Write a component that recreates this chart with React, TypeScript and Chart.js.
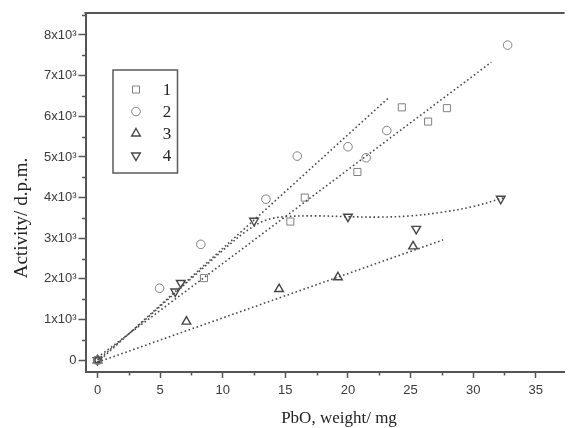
import React, { useEffect, useRef } from 'react';
import { Chart, registerables } from 'chart.js';

Chart.register(...registerables);

// ---- data ----
const series1X = [0, 8.5, 15.4, 16.55, 20.75, 24.3, 26.4, 27.9];
const series1Y = [0, 2020, 3410, 4000, 4630, 6220, 5870, 6200];

const series2X = [0, 4.95, 8.25, 13.45, 15.95, 20.0, 21.45, 23.1, 32.75];
const series2Y = [0, 1770, 2850, 3960, 5020, 5250, 4980, 5650, 7750];

const series3X = [0, 7.1, 14.5, 19.2, 25.2];
const series3Y = [0, 950, 1750, 2040, 2800];

const series4X = [0, 6.2, 6.65, 12.5, 20.0, 25.45, 32.2];
const series4Y = [0, 1690, 1900, 3430, 3530, 3230, 3970];

// fitted lines / curve
const fitAX = [0, 23.3];
const fitAY = [-50, 6470];
const fitBX = [0, 31.45];
const fitBY = [70, 7330];
const fit3X = [0, 27.6];
const fit3Y = [-50, 2960];
const curve4X = [0, 2, 4, 6, 8, 10, 12, 13.5, 15, 17.5, 20, 22.5, 25, 27.5, 30, 32.5];
const curve4Y = [0, 520, 1050, 1600, 2150, 2700, 3200, 3450, 3530, 3550, 3530, 3520, 3550, 3640, 3780, 4000];

const legendLabels = ['1', '2', '3', '4'];
const xMajorTicks = [0, 5, 10, 15, 20, 25, 30, 35];
const yMajorTicks = [0, 1000, 2000, 3000, 4000, 5000, 6000, 7000, 8000];
const xMinorTicks = [2.5, 7.5, 12.5, 17.5, 22.5, 27.5, 32.5, 37.5];
const yMinorTicks = [500, 1500, 2500, 3500, 4500, 5500, 6500, 7500, 8500];
const xTitle = 'PbO, weight/ mg';
const yTitle = 'Activity/ d.p.m.';

const pts = (xs: number[], ys: number[]) => xs.map((x, i) => ({ x, y: ys[i] }));

const AXIS = '#555';
const MARK_LIGHT = '#808080';
const MARK_DARK = '#474747';
const LINE = '#4a4a4a';

function drawSymbol(ctx: CanvasRenderingContext2D, kind: number, x: number, y: number) {
  ctx.beginPath();
  if (kind === 0) {
    ctx.strokeStyle = MARK_LIGHT; ctx.lineWidth = 1;
    ctx.rect(x - 3.5, y - 3.5, 7, 7);
  } else if (kind === 1) {
    ctx.strokeStyle = MARK_LIGHT; ctx.lineWidth = 1;
    ctx.arc(x, y, 4.3, 0, Math.PI * 2);
  } else if (kind === 2) {
    ctx.strokeStyle = MARK_DARK; ctx.lineWidth = 1.4;
    const r = 5;
    ctx.moveTo(x, y - r);
    ctx.lineTo(x + r * 0.866, y + r * 0.5);
    ctx.lineTo(x - r * 0.866, y + r * 0.5);
    ctx.closePath();
  } else {
    ctx.strokeStyle = MARK_DARK; ctx.lineWidth = 1.4;
    const r = 5;
    ctx.moveTo(x, y + r);
    ctx.lineTo(x + r * 0.866, y - r * 0.5);
    ctx.lineTo(x - r * 0.866, y - r * 0.5);
    ctx.closePath();
  }
  ctx.stroke();
}

const decor = {
  id: 'decor',
  afterDraw(chart: any) {
    const { ctx, chartArea, scales } = chart;
    const xs = scales.x;
    const ys = scales.y;
    ctx.save();
    // top frame line
    ctx.strokeStyle = AXIS;
    ctx.lineWidth = 2;
    ctx.beginPath();
    ctx.moveTo(chartArea.left - 1, chartArea.top);
    ctx.lineTo(chartArea.right, chartArea.top);
    ctx.stroke();
    // minor ticks
    ctx.lineWidth = 1.5;
    ctx.beginPath();
    for (const v of xMinorTicks) {
      const px = Math.round(xs.getPixelForValue(v)) + 0.5;
      if (px > chartArea.right) continue;
      ctx.moveTo(px, chartArea.bottom);
      ctx.lineTo(px, chartArea.bottom + 3.5);
    }
    for (const v of yMinorTicks) {
      const py = Math.round(ys.getPixelForValue(v)) + 0.5;
      ctx.moveTo(chartArea.left, py);
      ctx.lineTo(chartArea.left - 3.5, py);
    }
    ctx.stroke();

    // legend box
    ctx.strokeStyle = '#5a5a5a';
    ctx.lineWidth = 1.5;
    ctx.strokeRect(113, 70, 64.5, 103);
    const rows = [89.5, 111.5, 133.5, 155.5];
    ctx.font = '17px "Liberation Serif", "Times New Roman", serif';
    ctx.fillStyle = '#222';
    ctx.textAlign = 'center';
    ctx.textBaseline = 'middle';
    rows.forEach((ry, i) => {
      drawSymbol(ctx, i, 136, ry);
      ctx.fillText(legendLabels[i], 167, ry + 1);
    });

    // axis titles
    ctx.fillStyle = '#222';
    ctx.textBaseline = 'alphabetic';
    ctx.textAlign = 'center';
    ctx.font = '17px "Liberation Serif", "Times New Roman", serif';
    ctx.fillText(xTitle, 339, 423);
    ctx.save();
    ctx.translate(27, 218);
    ctx.rotate(-Math.PI / 2);
    ctx.font = '19px "Liberation Serif", "Times New Roman", serif';
    ctx.fillText(yTitle, 0, 0);
    ctx.restore();
    ctx.restore();
  },
};

export default function App() {
  const ref = useRef<HTMLCanvasElement | null>(null);

  useEffect(() => {
    if (!ref.current) return;
    const markerBase = { type: 'scatter', showLine: false, pointBackgroundColor: 'rgba(0,0,0,0)' };
    const lineBase = {
      type: 'line',
      showLine: true,
      pointRadius: 0,
      pointHoverRadius: 0,
      borderColor: LINE,
      borderWidth: 1.6,
      borderDash: [1.6, 2.6],
      fill: false,
    };
    const tickFont = { family: '"Liberation Sans", Arial, sans-serif', size: 13 };
    const chart = new Chart(ref.current, {
      type: 'scatter',
      data: {
        datasets: [
          { ...lineBase, label: 'fit A', data: pts(fitAX, fitAY), tension: 0 },
          { ...lineBase, label: 'fit B', data: pts(fitBX, fitBY), tension: 0 },
          { ...lineBase, label: 'fit 3', data: pts(fit3X, fit3Y), tension: 0 },
          { ...lineBase, label: 'fit 4', data: pts(curve4X, curve4Y), tension: 0.35 },
          {
            ...markerBase, label: '1', data: pts(series1X, series1Y),
            pointStyle: 'rect', pointRadius: 5, pointBorderColor: MARK_LIGHT, pointBorderWidth: 1,
          },
          {
            ...markerBase, label: '2', data: pts(series2X, series2Y),
            pointStyle: 'circle', pointRadius: 4.3, pointBorderColor: MARK_LIGHT, pointBorderWidth: 1,
          },
          {
            ...markerBase, label: '3', data: pts(series3X, series3Y),
            pointStyle: 'triangle', pointRadius: 5, pointBorderColor: MARK_DARK, pointBorderWidth: 1.4,
          },
          {
            ...markerBase, label: '4', data: pts(series4X, series4Y),
            pointStyle: 'triangle', pointRotation: 180, pointRadius: 5, pointBorderColor: MARK_DARK, pointBorderWidth: 1.4,
          },
        ] as any,
      },
      options: {
        animation: false,
        responsive: false,
        maintainAspectRatio: false,
        layout: { padding: { top: 13, left: 0, right: 0, bottom: 0 } },
        plugins: { legend: { display: false }, tooltip: { enabled: false } },
        scales: {
          x: {
            type: 'linear',
            min: -0.96,
            max: 37.3,
            afterFit: (s: any) => { s.height = 56; },
            afterBuildTicks: (s: any) => { s.ticks = xMajorTicks.map((v) => ({ value: v })); },
            border: { display: true, color: AXIS, width: 2 },
            grid: { display: true, drawOnChartArea: false, drawTicks: true, tickLength: 6, tickColor: AXIS, tickWidth: 1.5 },
            ticks: {
              autoSkip: false, maxRotation: 0, includeBounds: false, padding: 5,
              color: '#3a3a3a',
              font: tickFont,
            },
          },
          y: {
            type: 'linear',
            min: -290,
            max: 8540,
            afterFit: (s: any) => { s.width = 85.5; },
            afterBuildTicks: (s: any) => { s.ticks = yMajorTicks.map((v) => ({ value: v })); },
            border: { display: true, color: AXIS, width: 2 },
            grid: { display: true, drawOnChartArea: false, drawTicks: true, tickLength: 7, tickColor: AXIS, tickWidth: 1.5 },
            ticks: {
              autoSkip: false, includeBounds: false, padding: 2,
              color: '#3a3a3a',
              font: tickFont,
              callback: (v: any) => (Number(v) === 0 ? '0' : `${Number(v) / 1000}x10³`),
            },
          },
        },
      } as any,
      plugins: [decor],
    });
    return () => chart.destroy();
  }, []);

  return (
    <div style={{ position: 'absolute', left: 0, top: 0, width: 571, height: 428, overflow: 'hidden', background: '#fff' }}>
      <canvas ref={ref} width={571} height={428} style={{ display: 'block', width: 571, height: 428 }} />
    </div>
  );
}
